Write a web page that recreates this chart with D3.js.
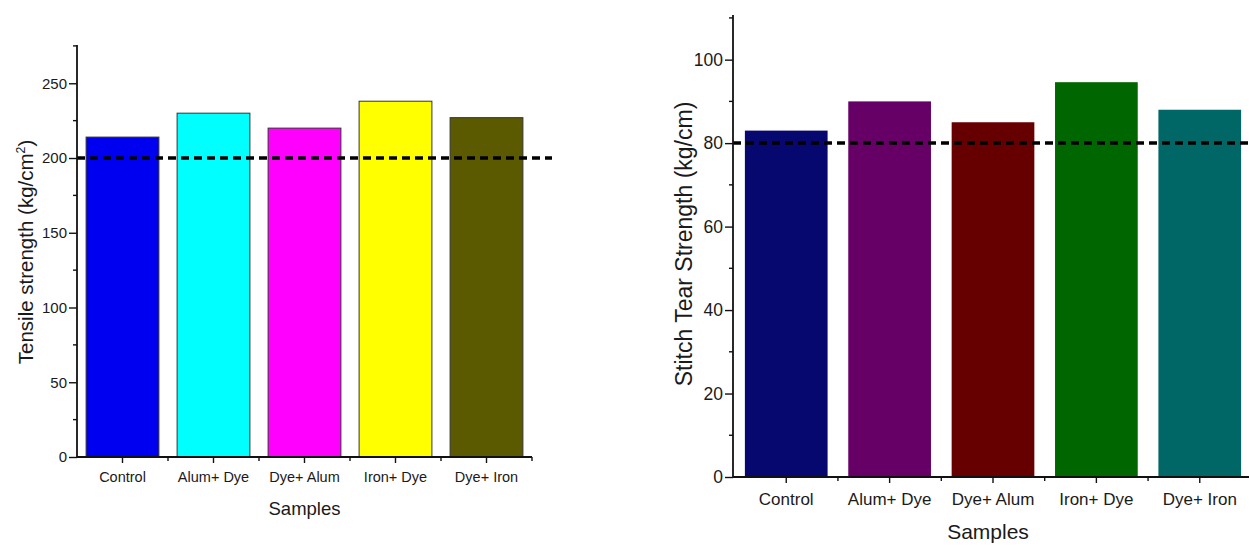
<!DOCTYPE html>
<html>
<head>
<meta charset="utf-8">
<script src="https://cdn.jsdelivr.net/npm/d3@7"></script>
<style>
  body { margin: 0; background: #fff; }
  svg { display: block; font-family: "Liberation Sans", Arial, sans-serif; }
</style>
</head>
<body>
<div id="chart"></div>
<script>
const samples = ["Control", "Alum+ Dye", "Dye+ Alum", "Iron+ Dye", "Dye+ Iron"];
const tensile = [214, 230, 220, 238, 227];
const tensileColors = ["#0000f0", "#00ffff", "#ff00ff", "#ffff00", "#5c5a00"];
const tensileTicks = [0, 50, 100, 150, 200, 250];
const tensileLimit = 200;
const stitch = [83, 90, 85, 94.6, 88];
const stitchColors = ["#070770", "#660066", "#660000", "#006600", "#006666"];
const stitchTicks = [0, 20, 40, 60, 80, 100];
const stitchLimit = 80;

const W = 1249, H = 547;
const svg = d3.select("#chart").append("svg").attr("width", W).attr("height", H);

function panel(o) {
    const g = svg.append("g");
    const x = d3.scaleBand().domain(samples).range([o.x0, o.x1]).paddingInner(0.2).paddingOuter(o.po);
    const y = d3.scaleLinear().domain([0, o.max]).range([o.y0, o.y1]);

    // bars
    g.selectAll("rect.bar").data(o.vals).join("rect").attr("class", "bar")
        .attr("x", (d, i) => x(samples[i])).attr("width", x.bandwidth())
        .attr("y", d => y(d)).attr("height", d => y(0) - y(d))
        .attr("fill", (d, i) => o.colors[i]).attr("stroke", o.stroke).attr("stroke-width", o.sw);

    // reference line
    g.append("line").attr("x1", o.x0).attr("x2", o.lineEnd)
        .attr("y1", y(o.limit)).attr("y2", y(o.limit))
        .attr("stroke", "#000").attr("stroke-width", 3.5).attr("stroke-dasharray", "8,5");

    // y axis
    const ya = g.append("g").attr("transform", `translate(${o.x0},0)`)
        .call(d3.axisLeft(y).tickValues(o.ticks).tickSize(o.ts).tickPadding(2));
    ya.select(".domain").attr("d", `M0,${o.y1}V${o.y0}`).attr("stroke", "#111").attr("stroke-width", 1.8);
    ya.selectAll(".tick line").attr("stroke", "#111").attr("stroke-width", 1.4);
    ya.selectAll(".tick text").attr("font-size", o.fs).attr("fill", "#1a1a1a")
        .attr("font-family", "Liberation Sans, Arial, sans-serif");
    const minor = d3.range(o.minorStep, o.max + 0.1, o.minorStep * 2);
    g.selectAll("line.ym").data(minor).join("line").attr("class", "ym")
        .attr("x1", o.x0 - 4).attr("x2", o.x0).attr("y1", d => y(d)).attr("y2", d => y(d))
        .attr("stroke", "#111").attr("stroke-width", 1.4);

    // x axis
    const xa = g.append("g").attr("transform", `translate(0,${o.y0})`)
        .call(d3.axisBottom(x).tickSize(6).tickPadding(o.tp));
    xa.select(".domain").attr("d", `M${o.x0},0H${o.xEnd}`).attr("stroke", "#111").attr("stroke-width", 1.8);
    xa.selectAll(".tick line").attr("stroke", "#111").attr("stroke-width", 1.4);
    xa.selectAll(".tick text").attr("font-size", o.xfs).attr("fill", "#1a1a1a")
        .attr("font-family", "Liberation Sans, Arial, sans-serif");
    const bounds = samples.slice(1).map(s => x(s) - x.step() * 0.1);
    bounds.push(x(samples[4]) + x.bandwidth() + x.step() * 0.1);
    g.selectAll("line.xm").data(bounds).join("line").attr("class", "xm")
        .attr("x1", d => d).attr("x2", d => d).attr("y1", o.y0).attr("y2", o.y0 + 4)
        .attr("stroke", "#111").attr("stroke-width", 1.4);

    // titles
    g.append("text").attr("x", (o.x0 + o.xEnd) / 2 + o.xtOff).attr("y", o.xtY)
        .attr("text-anchor", "middle").attr("font-size", o.tfs).attr("fill", "#1a1a1a").text("Samples");
    const yt = g.append("text").attr("transform", `translate(${o.ytX},${o.ytY}) rotate(-90)`)
        .attr("text-anchor", "middle").attr("font-size", o.yfs).attr("fill", "#1a1a1a");
    yt.append("tspan").text(o.ytitle);
    if (o.sup) {
        yt.append("tspan").attr("font-size", o.yfs * 0.6).attr("dy", -8).text(o.sup);
        yt.append("tspan").attr("dy", 8).text(")");
    }
}

panel({
    vals: tensile, colors: tensileColors, ticks: tensileTicks, limit: tensileLimit,
    x0: 77, x1: 532, xEnd: 532, po: 0.1, y0: 457, y1: 45, max: 275.6, minorStep: 25,
    stroke: "#333", sw: 1, lineEnd: 552, fs: 15, xfs: 14.5, ts: 8, tp: 9, tfs: 18.5, yfs: 20.5,
    xtOff: 0, xtY: 515, ytX: 33, ytY: 252, ytitle: "Tensile strength (kg/cm", sup: "2"
});

panel({
    vals: stitch, colors: stitchColors, ticks: stitchTicks, limit: stitchLimit,
    x0: 733, x1: 1253, xEnd: 1249, po: 0.115, y0: 477, y1: 15, max: 110.7, minorStep: 10,
    stroke: "none", sw: 0, lineEnd: 1249, fs: 17.5, xfs: 17, ts: 8, tp: 10, tfs: 21, yfs: 23,
    xtOff: -3, xtY: 539, ytX: 692, ytY: 244, ytitle: "Stitch Tear Strength (kg/cm)", sup: null
});
</script>
</body>
</html>
